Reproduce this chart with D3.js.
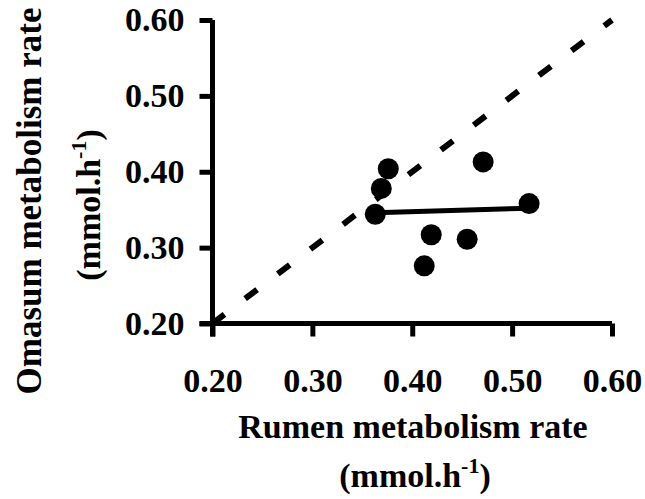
<!DOCTYPE html>
<html>
<head>
<meta charset="utf-8">
<script src="https://cdn.jsdelivr.net/npm/d3@7"></script>
<style>
body { margin: 0; background: #fff; }
svg { display: block; }
.axis path, .axis line { stroke: #000; stroke-width: 5; }
.axis text { font-family: "Liberation Serif", "Times New Roman", serif; font-weight: bold; font-size: 34px; fill: #000; }
.title { font-family: "Liberation Serif", "Times New Roman", serif; font-weight: bold; font-size: 34px; fill: #000; }
</style>
</head>
<body>
<div id="chart"></div>
<script>
// observed points (rumen, omasum) in mmol/h
var rumen  = [0.376, 0.369, 0.363, 0.471, 0.517, 0.419, 0.455, 0.412];
var omasum = [0.404, 0.378, 0.344, 0.413, 0.358, 0.317, 0.311, 0.276];
// fitted line ends as drawn
var fitX = [0.363, 0.517];
var fitY = [0.346, 0.352];
// line of identity
var unityLine = [0.20, 0.60];
var tickVals = [0.20, 0.30, 0.40, 0.50, 0.60];

var width = 645, height = 499;
var svg = d3.select("#chart").append("svg")
    .attr("width", width)
    .attr("height", height);

var x = d3.scaleLinear().domain([0.20, 0.60]).range([212.5, 612]);
var y = d3.scaleLinear().domain([0.20, 0.60]).range([323.5, 20]);

// dashed y = x line
svg.append("line")
    .attr("x1", x(unityLine[0])).attr("y1", y(unityLine[0]))
    .attr("x2", x(unityLine[1])).attr("y2", y(unityLine[1]))
    .attr("stroke", "#000")
    .attr("stroke-width", 6)
    .attr("stroke-dasharray", "15,26");

// regression line
svg.append("line")
    .attr("x1", x(fitX[0])).attr("y1", y(fitY[0]))
    .attr("x2", x(fitX[1])).attr("y2", y(fitY[1]))
    .attr("stroke", "#000")
    .attr("stroke-width", 5);

var xAxis = d3.axisBottom(x).tickValues(tickVals).tickFormat(d3.format(".2f"))
    .tickSizeInner(13).tickSizeOuter(0).tickPadding(31);
var yAxis = d3.axisLeft(y).tickValues(tickVals).tickFormat(d3.format(".2f"))
    .tickSizeInner(13).tickSizeOuter(0).tickPadding(15);

svg.append("g")
    .attr("class", "axis")
    .attr("transform", "translate(0," + y(0.20) + ")")
    .call(xAxis)
    .call(function(g) { g.select(".domain").attr("d", "M" + (x(0.20) - 13) + ",0H" + x(0.60)); });

svg.append("g")
    .attr("class", "axis")
    .attr("transform", "translate(" + x(0.20) + ",0)")
    .call(yAxis)
    .call(function(g) { g.select(".domain").attr("d", "M0," + y(0.60) + "V" + (y(0.20) + 13)); });

// points
svg.selectAll("circle.pt")
    .data(rumen)
    .enter().append("circle")
    .attr("class", "pt")
    .attr("cx", function(d) { return x(d); })
    .attr("cy", function(d, i) { return y(omasum[i]); })
    .attr("r", 10.5)
    .attr("fill", "#000");

// x title
svg.append("text")
    .attr("class", "title")
    .attr("x", 413).attr("y", 438)
    .attr("text-anchor", "middle")
    .text("Rumen metabolism rate");

var xt2 = svg.append("text")
    .attr("class", "title")
    .attr("x", 415).attr("y", 487)
    .attr("text-anchor", "middle");
xt2.append("tspan").text("(mmol.h");
xt2.append("tspan").attr("dy", -14).style("font-size", "22px").text("-1");
xt2.append("tspan").attr("dy", 14).text(")");

// y title
svg.append("text")
    .attr("class", "title")
    .style("font-size", "35px")
    .attr("transform", "translate(41,201) rotate(-90)")
    .attr("text-anchor", "middle")
    .text("Omasum metabolism rate");

var yt2 = svg.append("text")
    .attr("class", "title")
    .attr("transform", "translate(100,205) rotate(-90)")
    .attr("text-anchor", "middle");
yt2.append("tspan").text("(mmol.h");
yt2.append("tspan").attr("dy", -14).style("font-size", "22px").text("-1");
yt2.append("tspan").attr("dy", 14).text(")");
</script>
</body>
</html>
